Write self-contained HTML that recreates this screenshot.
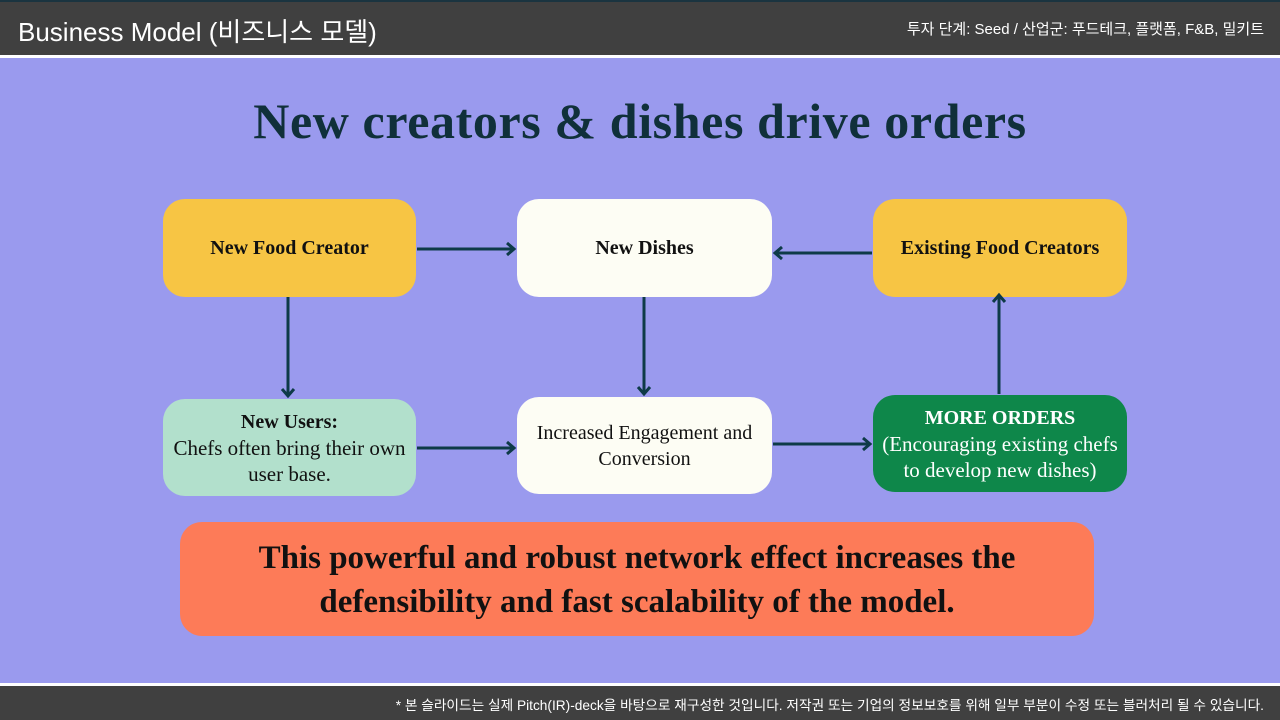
<!DOCTYPE html>
<html><head><meta charset="utf-8"><style>
*{margin:0;padding:0;box-sizing:border-box}
body{width:1280px;height:720px;position:relative;background:#9a9aee;overflow:hidden;font-family:"Liberation Serif",serif}
.hdr{position:absolute;left:0;top:0;width:1280px;height:55px;background:#404040;border-top:2px solid #1a3440}
.hline{position:absolute;left:0;top:55px;width:1280px;height:3px;background:#fff}
.ttl{position:absolute;left:18px;top:12px;color:#fff;font:26px "Liberation Sans","Noto Sans CJK KR",sans-serif}
.sub{position:absolute;right:16px;top:18px;color:#fff;font:15px "Liberation Sans","Noto Sans CJK KR",sans-serif}
.ftr{position:absolute;left:0;top:683px;width:1280px;height:37px;background:#404040;border-top:3px solid #fff}
.ftr span{position:absolute;right:16px;top:8px;color:#fff;font:13.7px "Liberation Sans","Noto Sans CJK KR",sans-serif}
h1{position:absolute;left:0;width:1280px;top:92px;text-align:center;font:bold 50px "Liberation Serif",serif;color:#10303a;letter-spacing:0.6px}
.b{position:absolute;border-radius:22px;display:flex;align-items:center;justify-content:center;text-align:center;color:#111;font-size:21px;line-height:26px;white-space:nowrap}
.y{background:#f7c544}.w{background:#fdfdf4}.g{background:#b2e0cc}
.bold{font-weight:bold;font-size:20px}
.bot{position:absolute;left:180px;top:522px;width:914px;height:114px;background:#fd7b58;border-radius:22px;text-align:center;font:bold 33px/44px "Liberation Serif",serif;color:#111;padding-top:14px;white-space:nowrap}
svg{position:absolute;left:0;top:0}
</style></head><body>
<div class="hdr"></div><div class="hline"></div>
<div class="ttl">Business Model (비즈니스 모델)</div>
<div class="sub">투자 단계: Seed / 산업군: 푸드테크, 플랫폼, F&amp;B, 밀키트</div>
<h1>New creators &amp; dishes drive orders</h1>
<div class="b y bold" style="left:163px;top:199px;width:253px;height:98px">New Food Creator</div>
<div class="b w bold" style="left:517px;top:199px;width:255px;height:98px">New Dishes</div>
<div class="b y bold" style="left:873px;top:199px;width:254px;height:98px">Existing Food Creators</div>
<div class="b g" style="left:163px;top:399px;width:253px;height:97px"><div><b style="font-size:20px">New Users:</b><br>Chefs often bring their own<br>user base.</div></div>
<div class="b w" style="left:517px;top:397px;width:255px;height:97px;font-size:20px">Increased Engagement and<br>Conversion</div>
<div class="b" style="left:873px;top:395px;width:254px;height:97px;background:#0e874a;color:#fff"><div><b style="font-size:20px">MORE ORDERS</b><br>(Encouraging existing chefs<br>to develop new dishes)</div></div>
<svg width="1280" height="720"><g stroke="#0e3a48" stroke-width="3" fill="none">
<line x1="417" y1="249" x2="514" y2="249"/><polyline points="507,243 514,249 507,255"/>
<line x1="872" y1="253" x2="775" y2="253"/><polyline points="782,247 775,253 782,259"/>
<line x1="288" y1="297" x2="288" y2="396"/><polyline points="282,389 288,396 294,389"/>
<line x1="644" y1="297" x2="644" y2="394"/><polyline points="638,387 644,394 650,387"/>
<line x1="417" y1="448" x2="514" y2="448"/><polyline points="507,442 514,448 507,454"/>
<line x1="773" y1="444" x2="870" y2="444"/><polyline points="863,438 870,444 863,450"/>
<line x1="999" y1="394" x2="999" y2="295"/><polyline points="993,302 999,295 1005,302"/>
</g></svg>
<div class="bot">This powerful and robust network effect increases the<br>defensibility and fast scalability of the model.</div>
<div class="ftr"><span>* 본 슬라이드는 실제 Pitch(IR)-deck을 바탕으로 재구성한 것입니다. 저작권 또는 기업의 정보보호를 위해 일부 부분이 수정 또는 블러처리 될 수 있습니다.</span></div>
</body></html>
